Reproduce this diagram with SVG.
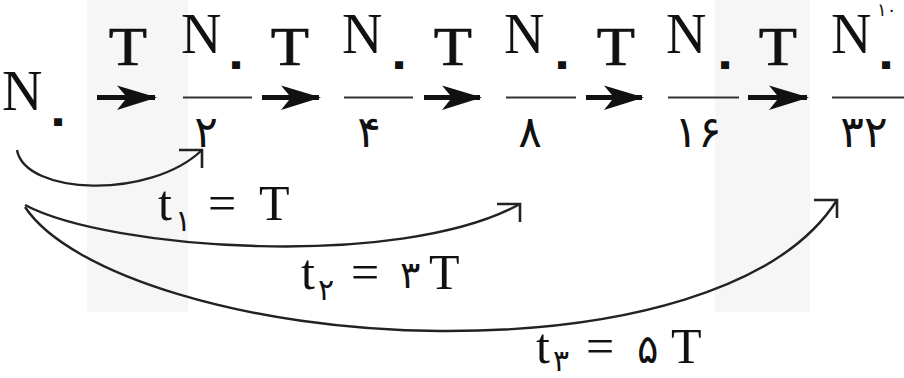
<svg xmlns="http://www.w3.org/2000/svg" width="904" height="378" viewBox="0 0 904 378">
<style>
.bg{fill:#f6f6f6}
.lat{font-family:"Liberation Serif","Times New Roman",serif;fill:#111}
.N{font-size:56px}
.T{font-size:56px;text-anchor:middle;stroke:#111;stroke-width:0.7}
.fa{font-family:"DejaVu Sans","Noto Sans",sans-serif;fill:#111}
.z{font-size:46px;font-weight:bold}
.den{font-size:44px;text-anchor:middle}
.sub{font-size:30px}
.lab{font-size:50px}
.bar{stroke:#333;stroke-width:2.2}
.shaft{stroke:#111;stroke-width:5;fill:none;marker-end:url(#head)}
.curve{stroke:#222;stroke-width:2.4;fill:none;marker-end:url(#open)}
</style>
<defs>
<marker id="head" viewBox="-40 -13 42 26" refX="0" refY="0" markerWidth="42" markerHeight="26" markerUnits="userSpaceOnUse" orient="auto">
<path d="M2,0 L-38,-12 L-28,0 L-38,12.5 Z" fill="#111"/>
</marker>
<marker id="open" viewBox="-26 -4 30 26" refX="0" refY="0" markerWidth="30" markerHeight="26" markerUnits="userSpaceOnUse" orient="0">
<path d="M-23,0 L0,0 L0,18" fill="none" stroke="#222" stroke-width="2.6"/>
</marker>
</defs>
<rect class="bg" x="87" y="0" width="101" height="312"/>
<rect class="bg" x="715" y="0" width="95" height="312"/>

<g id="n0">
<text class="lat N" x="2" y="110">N</text>
<text class="fa z" x="44" y="135">۰</text>
</g>
<g id="n1">
<text class="lat N" x="181" y="53">N</text>
<text class="fa z" x="222" y="78">۰</text>
<line class="bar" x1="183" y1="97.5" x2="252" y2="97.5"/>
<text class="fa den" x="206" y="147">۲</text>
</g>
<g id="n2">
<text class="lat N" x="342" y="53">N</text>
<text class="fa z" x="385" y="78">۰</text>
<line class="bar" x1="344" y1="97.5" x2="413" y2="97.5"/>
<text class="fa den" x="369" y="147">۴</text>
</g>
<g id="n3">
<text class="lat N" x="504" y="53">N</text>
<text class="fa z" x="548" y="78">۰</text>
<line class="bar" x1="506" y1="97.5" x2="576" y2="97.5"/>
<text class="fa den" x="530" y="147">۸</text>
</g>
<g id="n4">
<text class="lat N" x="666" y="53">N</text>
<text class="fa z" x="711" y="78">۰</text>
<line class="bar" x1="668" y1="97.5" x2="739" y2="97.5"/>
<text class="fa den" x="698" y="147">۱۶</text>
</g>
<g id="n5">
<text class="lat N" x="831" y="53">N</text>
<text class="fa z" x="872" y="78">۰</text>
<line class="bar" x1="832" y1="97.5" x2="904" y2="97.5"/>
<text class="fa den" x="864" y="147">۳۲</text>
<text class="fa" font-size="18" x="877" y="16">۱۰</text>
</g>

<g id="step-labels">
<text class="lat T" transform="translate(128,65) scale(1.12,1)">T</text>
<text class="lat T" transform="translate(290,65) scale(1.12,1)">T</text>
<text class="lat T" transform="translate(453,65) scale(1.12,1)">T</text>
<text class="lat T" transform="translate(616,65) scale(1.12,1)">T</text>
<text class="lat T" transform="translate(778,65) scale(1.12,1)">T</text>
</g>

<g id="connectors">
<line class="shaft" x1="97" y1="97.5" x2="155" y2="97.5"/>
<line class="shaft" x1="262" y1="97.5" x2="319" y2="97.5"/>
<line class="shaft" x1="424" y1="97.5" x2="480" y2="97.5"/>
<line class="shaft" x1="586" y1="97.5" x2="642" y2="97.5"/>
<line class="shaft" x1="748" y1="97.5" x2="807" y2="97.5"/>
<path class="curve" d="M17,150 C25,195 150,200 202,150"/>
<path class="curve" d="M25,205 C110,250 400,270 520,204"/>
<path class="curve" d="M25,207 C70,275 250,330 440,331 C620,332 780,290 837,200"/>
</g>

<g id="time-labels">
<g id="t1">
<text class="lat lab" x="158" y="220">t</text>
<text class="fa sub" x="175" y="231">۱</text>
<text class="lat lab" x="208" y="220">=</text>
<text class="lat lab" x="259" y="220">T</text>
</g>
<g id="t2">
<text class="lat lab" x="301" y="289">t</text>
<text class="fa sub" x="318" y="300">۲</text>
<text class="lat lab" x="351" y="289">=</text>
<text class="fa" font-size="38" x="400" y="288">۳</text>
<text class="lat lab" x="429" y="289">T</text>
</g>
<g id="t3">
<text class="lat lab" x="536" y="363">t</text>
<text class="fa sub" x="553" y="371">۳</text>
<text class="lat lab" x="586" y="363">=</text>
<text class="fa" font-size="40" x="637" y="363">۵</text>
<text class="lat lab" x="671" y="363">T</text>
</g>
</g>
</svg>
